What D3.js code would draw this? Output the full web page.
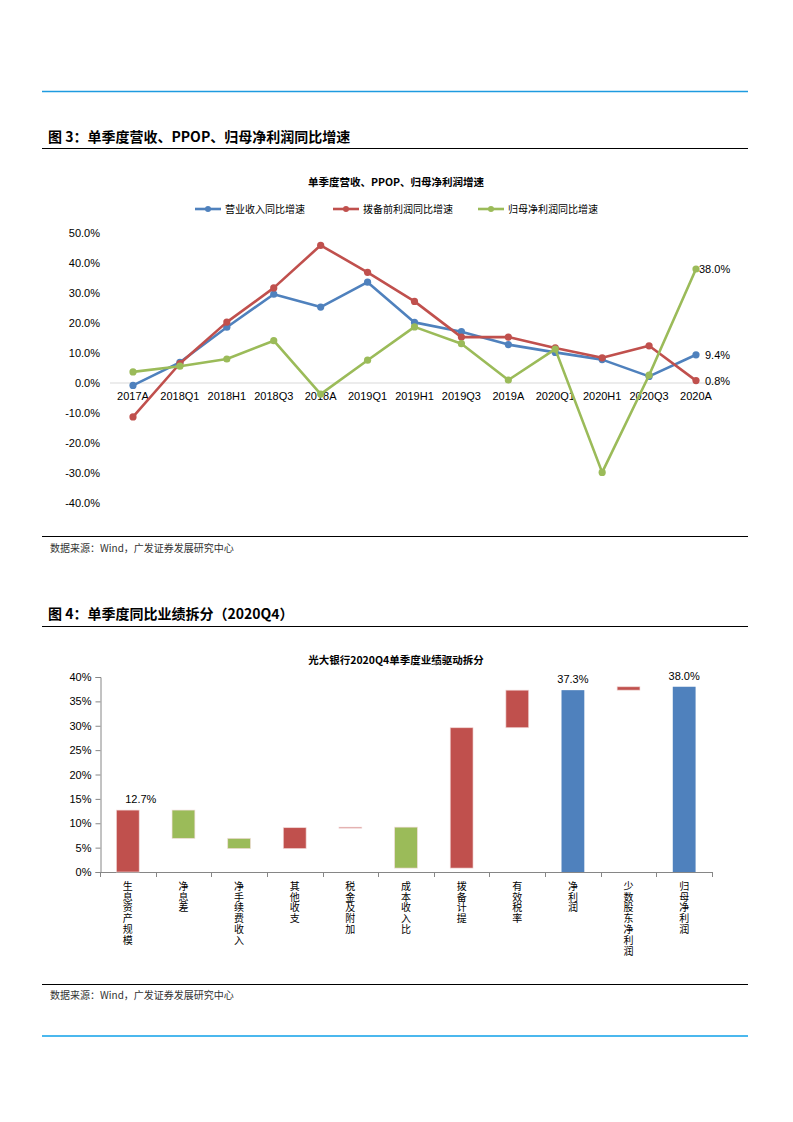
<!DOCTYPE html>
<html><head><meta charset="utf-8">
<script src="https://cdn.jsdelivr.net/npm/d3@7/dist/d3.min.js"></script>
<style>body{margin:0;background:#fff}svg{display:block}</style>
</head><body>
<script>
// ---------- Figure 3 data ----------
const lineCategories = ["2017A","2018Q1","2018H1","2018Q3","2018A","2019Q1","2019H1","2019Q3","2019A","2020Q1","2020H1","2020Q3","2020A"];
const revenueGrowth = [-0.8, 6.9, 18.6, 29.6, 25.3, 33.6, 20.2, 17.1, 12.8, 10.2, 7.8, 2.2, 9.4];
const ppopGrowth = [-11.3, 6.5, 20.3, 31.7, 45.9, 36.9, 27.2, 15.3, 15.3, 11.7, 8.4, 12.4, 0.8];
const netProfitGrowth = [3.7, 5.6, 8.0, 14.1, -3.7, 7.6, 18.7, 13.1, 1.0, 11.3, -29.8, 2.6, 38.0];
const lineSeriesNames = ["营业收入同比增速","拨备前利润同比增速","归母净利润同比增速"];
const lineTicks = [50, 40, 30, 20, 10, 0, -10, -20, -30, -40];

// ---------- Figure 4 data ----------
const wfCategories = ["生息资产规模","净息差","净手续费收入","其他收支","税金及附加","成本收入比","拨备计提","有效税率","净利润","少数股东净利润","归母净利润"];
const wfStart = [0, 12.7, 6.9, 4.8, 9.1, 9.2, 0.8, 29.6, 0, 37.3, 0];
const wfEnd = [12.7, 6.9, 4.8, 9.1, 9.2, 0.8, 29.6, 37.3, 37.3, 38.0, 38.0];
const wfIsTotal = [false,false,false,false,false,false,false,false,true,false,true];
const wfTicks = [0, 5, 10, 15, 20, 25, 30, 35, 40];

const C = {blue:"#4F81BD", red:"#C0504D", green:"#9BBB59"};
const W = 793, H = 1122;
const svg = d3.select("body").append("svg").attr("width", W).attr("height", H);
const cjk = "'Noto Sans CJK SC', sans-serif";
const lat = "'Liberation Sans', Arial, sans-serif";

// page frame lines
svg.append("line").attr("x1",42).attr("x2",748).attr("y1",91.5).attr("y2",91.5).attr("stroke","#1E9BE0").attr("stroke-width",1.5);
svg.append("line").attr("x1",42).attr("x2",748).attr("y1",1036).attr("y2",1036).attr("stroke","#0FA0E8").attr("stroke-width",1.5);

function heading(y, txt){
  svg.append("text").attr("x",48).attr("y",y).attr("font-family",cjk).attr("font-weight","bold").attr("font-size",14).attr("fill","#000").text(txt);
}
heading(142, "图 3：单季度营收、PPOP、归母净利润同比增速");
svg.append("line").attr("x1",42).attr("x2",748).attr("y1",148.5).attr("y2",148.5).attr("stroke","#000").attr("stroke-width",1);
svg.append("line").attr("x1",42).attr("x2",748).attr("y1",536.5).attr("y2",536.5).attr("stroke","#000").attr("stroke-width",1);
svg.append("text").attr("x",50).attr("y",552).attr("font-family",cjk).attr("font-size",10).attr("fill","#333").text("数据来源：Wind，广发证券发展研究中心");

heading(619, "图 4：单季度同比业绩拆分（2020Q4）");
svg.append("line").attr("x1",42).attr("x2",748).attr("y1",626.5).attr("y2",626.5).attr("stroke","#000").attr("stroke-width",1);
svg.append("line").attr("x1",42).attr("x2",748).attr("y1",984.5).attr("y2",984.5).attr("stroke","#000").attr("stroke-width",1);
svg.append("text").attr("x",50).attr("y",999).attr("font-family",cjk).attr("font-size",10).attr("fill","#333").text("数据来源：Wind，广发证券发展研究中心");

// ---------- Figure 3 chart ----------
{
  const g = svg.append("g");
  g.append("text").attr("x",396).attr("y",186).attr("text-anchor","middle").attr("font-family",cjk).attr("font-weight","bold").attr("font-size",10.5).text("单季度营收、PPOP、归母净利润增速");
  const x = d3.scalePoint().domain(lineCategories).range([133, 696]);
  const y = d3.scaleLinear().domain([-40, 50]).range([503, 233]);
  g.selectAll(".yt").data(lineTicks).enter().append("text")
    .attr("x",100).attr("y",d=>y(d)+4).attr("text-anchor","end")
    .attr("font-family",lat).attr("font-size",11).attr("fill","#000").text(d=>d.toFixed(1)+"%");
  g.append("line").attr("x1",110).attr("x2",720).attr("y1",y(0)).attr("y2",y(0)).attr("stroke","#D9D9D9").attr("stroke-width",1);
  g.selectAll(".xt").data(lineCategories).enter().append("text")
    .attr("x",d=>x(d)).attr("y",y(0)+17).attr("text-anchor","middle")
    .attr("font-family",lat).attr("font-size",11).attr("fill","#000").text(d=>d);
  const series = [
    {name:lineSeriesNames[0], vals:revenueGrowth, color:C.blue},
    {name:lineSeriesNames[1], vals:ppopGrowth, color:C.red},
    {name:lineSeriesNames[2], vals:netProfitGrowth, color:C.green}
  ];
  const line = d3.line().x((d,i)=>x(lineCategories[i])).y(d=>y(d));
  series.forEach(s=>{
    g.append("path").attr("d",line(s.vals)).attr("fill","none").attr("stroke",s.color).attr("stroke-width",2.6).attr("stroke-linejoin","round");
    g.selectAll(null).data(s.vals).enter().append("circle")
      .attr("cx",(d,i)=>x(lineCategories[i])).attr("cy",d=>y(d)).attr("r",3.6).attr("fill",s.color);
  });
  const last = lineCategories.length-1;
  [netProfitGrowth[last], revenueGrowth[last], ppopGrowth[last]].forEach(v=>{
    g.append("text").attr("x",x(lineCategories[last])+ (v>30?3:9)).attr("y",y(v)+4)
      .attr("font-family",lat).attr("font-size",11).attr("fill","#000").text(v.toFixed(1)+"%");
  });
  const legX = [195, 333, 478];
  series.forEach((s,i)=>{
    const lx = legX[i], ly = 209;
    g.append("line").attr("x1",lx).attr("x2",lx+26).attr("y1",ly).attr("y2",ly).attr("stroke",s.color).attr("stroke-width",2.6);
    g.append("circle").attr("cx",lx+13).attr("cy",ly).attr("r",3).attr("fill",s.color);
    g.append("text").attr("x",lx+30).attr("y",ly+3.5).attr("font-family",cjk).attr("font-size",10).attr("fill","#000").text(s.name);
  });
}

// ---------- Figure 4 chart ----------
{
  const g = svg.append("g");
  g.append("text").attr("x",396).attr("y",664).attr("text-anchor","middle").attr("font-family",cjk).attr("font-weight","bold").attr("font-size",10.5).text("光大银行2020Q4单季度业绩驱动拆分");
  const x = d3.scaleBand().domain(wfCategories).range([100, 712]).paddingInner(0.59).paddingOuter(0.295);
  const xb = d3.scaleBand().domain(wfCategories).range([100, 712]);
  const y = d3.scaleLinear().domain([0, 40]).range([872, 677]);
  const yAxis = d3.axisLeft(y).tickValues(wfTicks).tickSize(5).tickFormat(d=>d+"%");
  const ya = g.append("g").attr("transform","translate(100.5,0)").call(yAxis);
  ya.select(".domain").attr("stroke","#868686");
  ya.selectAll(".tick line").attr("stroke","#868686");
  ya.selectAll(".tick text").attr("font-family",lat).attr("font-size",11).attr("fill","#000").attr("x",-9);
  g.append("line").attr("x1",100).attr("x2",712).attr("y1",872.5).attr("y2",872.5).attr("stroke","#868686");
  const bounds = wfCategories.map(c=>xb(c)).concat([712]);
  g.selectAll(".xtk").data(bounds).enter().append("line")
    .attr("x1",d=>Math.round(d)+0.5).attr("x2",d=>Math.round(d)+0.5).attr("y1",872).attr("y2",877).attr("stroke","#868686");
  wfCategories.forEach((c,i)=>{
    const s = wfStart[i], e = wfEnd[i];
    const col = wfIsTotal[i] ? C.blue : (e >= s ? C.red : C.green);
    const top = y(Math.max(s,e)), bot = y(Math.min(s,e));
    g.append("rect").attr("x",x(c)).attr("width",x.bandwidth())
      .attr("y",top).attr("height",Math.max(bot-top, 1))
      .attr("fill",col).attr("stroke", wfIsTotal[i] ? "none" : "#F2DCDB").attr("stroke-width", wfIsTotal[i]?0:0.8)
      .attr("stroke-opacity",0.8);
    g.append("text")
      .attr("x", xb(c)+xb.bandwidth()/2).attr("y", 881)
      .attr("font-family",cjk).attr("font-size",10).attr("fill","#000")
      .style("writing-mode","vertical-rl").style("text-orientation","upright")
      .style("letter-spacing","0.8px")
      .text(c);
  });
  const labelIdx = [0, 8, 10];
  labelIdx.forEach(i=>{
    const c = wfCategories[i];
    const cx = x(c)+x.bandwidth()/2 + (i===0?13:0);
    g.append("text").attr("x",cx).attr("y",y(wfEnd[i])-7).attr("text-anchor","middle")
      .attr("font-family",lat).attr("font-size",11).attr("fill","#000").text(wfEnd[i].toFixed(1)+"%");
  });
}
</script>
</body></html>
